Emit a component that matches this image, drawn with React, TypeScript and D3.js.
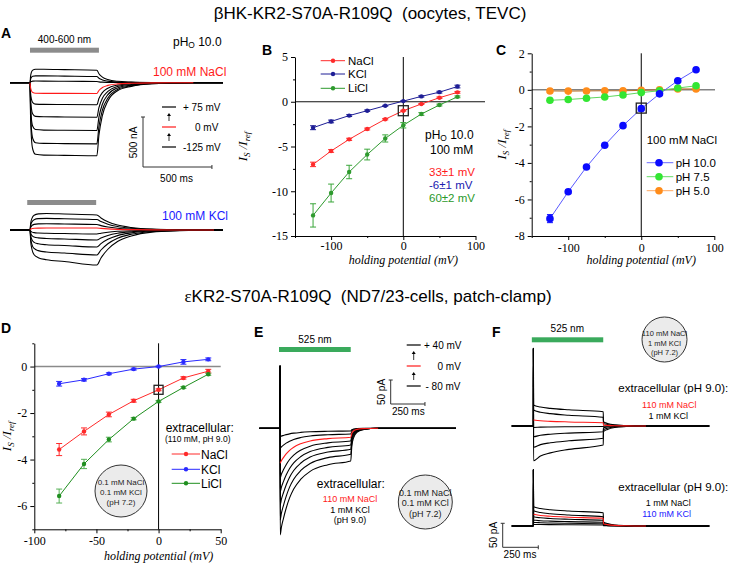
import React, { useEffect, useRef } from 'react';
import * as d3 from 'd3';

const SANS = "'Liberation Sans', Arial, Helvetica, sans-serif";
const SERIF = "'Liberation Serif', 'Times New Roman', serif";

// ---------- B / C : oocyte I-V data ----------
const ivVolts = [-125, -100, -75, -50, -25, 0, 25, 50, 75];
const bNaCl = [-7.0, -5.5, -4.2, -3.05, -1.95, -1.0, -0.25, 0.45, 1.05];
const bNaClErr = [0.25, 0.15, 0.12, 0.1, 0.08, 0.05, 0.05, 0.08, 0.1];
const bKCl = [-2.9, -2.2, -1.55, -1.0, -0.45, 0.07, 0.6, 1.07, 1.7];
const bKClErr = [0.22, 0.15, 0.1, 0.08, 0.05, 0.05, 0.08, 0.1, 0.15];
const bLiCl = [-12.7, -10.2, -7.85, -5.9, -4.1, -2.63, -1.37, -0.37, 0.55];
const bLiClErr = [1.3, 1.0, 0.75, 0.6, 0.4, 0.3, 0.15, 0.1, 0.1];

const cPH10 = [-7.05, -5.58, -4.22, -3.03, -1.96, -1.03, -0.22, 0.5, 1.1];
const cPH10Err = [0.22, 0.1, 0.08, 0.06, 0.05, 0.04, 0.04, 0.05, 0.06];
const cPH75 = [-0.57, -0.53, -0.46, -0.39, -0.28, -0.15, -0.05, 0.1, 0.22];
const cPH5 = [-0.06, -0.07, -0.06, -0.05, -0.05, -0.03, 0.0, 0.05, 0.05];

// ---------- D : ND7/23 I-V data ----------
const dVolts = [-80, -60, -40, -20, 0, 20, 40];
const dNaCl = [-3.57, -2.79, -2.06, -1.47, -1.0, -0.49, -0.2];
const dNaClErr = [0.26, 0.15, 0.1, 0.06, 0.04, 0.05, 0.08];
const dKCl = [-0.74, -0.57, -0.31, -0.11, 0, 0.2, 0.31];
const dKClErr = [0.1, 0.05, 0.04, 0.04, 0.02, 0.1, 0.06];
const dLiCl = [-5.57, -4.19, -3.14, -2.24, -1.5, -0.9, -0.33];
const dLiClErr = [0.3, 0.2, 0.1, 0.05, 0.04, 0.04, 0.05];

// ---------- A : TEVC traces (nA), +75 ... -125 mV ----------
const aNaClStart = [137, 70, 17, -106, -216, -340, -473, -606, -723];
const aNaClEnd = [125, 62, 12, -108, -220, -345, -478, -612, -730];
const aKClStart = [170, 120, 65, 20, -30, -80, -140, -210, -280];
const aKClEnd = [150, 105, 55, 20, -40, -100, -170, -250, -350];
const aRedIndex = 3;
// [ms after light on, onset fraction, drift fraction]
const aShapeNaCl = [[0, 0, 0], [4, 0.45, 0.01], [10, 0.75, 0.02], [20, 0.92, 0.04], [40, 0.99, 0.08], [100, 1, 0.2], [250, 1, 0.5], [485, 1, 1]];
const aShapeKCl = [[0, 0, 0], [5, 0.4, 0.01], [15, 0.7, 0.03], [30, 0.87, 0.06], [60, 0.96, 0.12], [120, 1, 0.25], [250, 1, 0.5], [485, 1, 1]];
// [ms after light off, fraction remaining]
const aTailNaCl = [[0, 1], [15, 0.72], [40, 0.45], [80, 0.25], [150, 0.11], [250, 0.05], [400, 0.015], [700, 0]];
const aTailKCl = [[0, 1], [30, 0.8], [80, 0.55], [150, 0.33], [250, 0.17], [400, 0.06], [600, 0.02], [850, 0]];

// ---------- E : patch-clamp traces (pA) ----------
const ePeak = [-17.5, -41.7, -72.9, -103.5, -132.7, -159.8, -191, -222];
const eSteady = [-5.6, -11.9, -18.75, -26.5, -34.8, -43.75, -54.2, -68.1];
const eRedIndex = 2;
const eShape = [[1.5, 1, 0], [10, 1, 0.1], [25, 1, 0.22], [45, 1, 0.36], [70, 1, 0.5], [100, 1, 0.62], [150, 1, 0.75], [220, 1, 0.86], [350, 1, 0.95], [516, 1, 1]];
const eTail = [[0, 1], [8, 0.55], [20, 0.3], [45, 0.12], [90, 0.04], [200, 0]];

// ---------- F : patch-clamp traces (pA) ----------
const fNaClStart = [43.75, 33.3, 12.5, -3, -22.3, -44.4, -72.3];
const fNaClEnd = [29.8, 18.1, 6.9, -1, -11.9, -25.6, -39.6];
const fKClStart = [40.2, 31.9, 24.4, 19.4, 12.5, 7.7, 3.5];
const fKClEnd = [27.7, 19.4, 16.0, 11.9, 7.7, 4.8, 2.1];
const fRedIndex = 2;
const fShape = [[1.5, 1, 0], [50, 1, 0.3], [120, 1, 0.5], [250, 1, 0.72], [491, 1, 1]];
const fTail = [[0, 1], [1.5, 0.3], [30, 0.18], [80, 0.08], [160, 0.03], [300, 0]];

function txt(g: any, x: number, y: number, s: string, o: any = {}) {
  return g.append('text')
    .attr('x', x).attr('y', y)
    .attr('text-anchor', o.anchor || 'start')
    .attr('fill', o.color || '#000')
    .style('font-family', o.family || SANS)
    .style('font-size', (o.size || 12) + 'px')
    .style('font-weight', o.weight || 'normal')
    .style('font-style', o.italic ? 'italic' : 'normal')
    .style('white-space', 'pre')
    .text(s);
}

function yLabel(g: any, x: number, y: number) {
  const t = g.append('text')
    .attr('transform', `translate(${x},${y}) rotate(-90)`)
    .attr('text-anchor', 'middle')
    .style('font-family', SERIF).style('font-style', 'italic').style('font-size', '13px');
  t.append('tspan').text('I');
  t.append('tspan').attr('dy', 3).style('font-size', '9px').text('S');
  t.append('tspan').attr('dy', -3).text(' /');
  t.append('tspan').text('I');
  t.append('tspan').attr('dy', 3).style('font-size', '9px').text('ref');
}

function drawIV(root: any, o: any) {
  const g = root.append('g');
  const x = d3.scaleLinear().domain(o.xDomain).range(o.xRange);
  const y = d3.scaleLinear().domain(o.yDomain).range(o.yRange);

  g.append('line').attr('x1', o.xRange[0]).attr('x2', o.zeroEnd).attr('y1', y(0)).attr('y2', y(0))
    .attr('stroke', o.zeroColor).attr('stroke-width', o.zeroWidth);
  g.append('line').attr('x1', x(0)).attr('x2', x(0)).attr('y1', o.yRange[0]).attr('y2', o.yRange[1])
    .attr('stroke', '#000').attr('stroke-width', 1);

  const styleAxis = (a: any) => {
    a.selectAll('path,line').attr('stroke', '#000');
    a.selectAll('text').style('font-family', SERIF).style('font-size', '12px').attr('fill', '#000');
  };
  const xa = g.append('g').attr('transform', `translate(0,${o.yRange[0]})`)
    .call(d3.axisBottom(x).tickValues(o.xTicks).tickSize(4).tickSizeOuter(0).tickPadding(o.xPad).tickFormat((d: any) => String(d)));
  styleAxis(xa);
  const xm = g.append('g').attr('transform', `translate(0,${o.yRange[0]})`)
    .call(d3.axisBottom(x).tickValues(o.xMinor).tickSize(2).tickSizeOuter(0).tickFormat(() => ''));
  xm.select('.domain').remove(); styleAxis(xm);
  const ya = g.append('g').attr('transform', `translate(${o.xRange[0]},0)`)
    .call(d3.axisLeft(y).tickValues(o.yTicks).tickSize(4).tickSizeOuter(0).tickPadding(3).tickFormat((d: any) => String(d)));
  styleAxis(ya);
  const ym = g.append('g').attr('transform', `translate(${o.xRange[0]},0)`)
    .call(d3.axisLeft(y).tickValues(o.yMinor).tickSize(2).tickSizeOuter(0).tickFormat(() => ''));
  ym.select('.domain').remove(); styleAxis(ym);

  const line = d3.line<number>().x((_, i) => x(o.volts[i])).y((d) => y(d));
  o.series.forEach((s: any) => {
    g.append('path').attr('d', line(s.values)).attr('fill', 'none')
      .attr('stroke', s.lineColor || s.color).attr('stroke-width', 1);
    if (s.errors) {
      s.values.forEach((v: number, i: number) => {
        const e = s.errors[i];
        const cx = x(o.volts[i]);
        const eg = g.append('g').attr('stroke', s.errColor || s.color).attr('stroke-width', 1);
        eg.append('line').attr('x1', cx).attr('x2', cx).attr('y1', y(v - e)).attr('y2', y(v + e));
        eg.append('line').attr('x1', cx - 3).attr('x2', cx + 3).attr('y1', y(v - e)).attr('y2', y(v - e));
        eg.append('line').attr('x1', cx - 3).attr('x2', cx + 3).attr('y1', y(v + e)).attr('y2', y(v + e));
      });
    }
  });
  o.series.forEach((s: any) => {
    g.selectAll(null).data(s.values).enter().append('circle')
      .attr('cx', (_: any, i: number) => x(o.volts[i])).attr('cy', (d: number) => y(d))
      .attr('r', o.markerR).attr('fill', s.color);
  });
  // reference point
  const sq = o.sq;
  g.append('rect').attr('x', x(0) - sq / 2).attr('y', y(-1) - sq / 2).attr('width', sq).attr('height', sq)
    .attr('fill', 'none').attr('stroke', '#222').attr('stroke-width', 1.3);

  txt(g, x(0), o.xTitleY, 'holding potential (mV)', { family: SERIF, italic: true, size: 12, anchor: 'middle' });
  yLabel(g, o.yTitleX, (o.yRange[0] + o.yRange[1]) / 2);
  return { x, y };
}

// red (0 mV) trace is drawn on top, so it only covers the light-driven part
function buildTrace(p: any, start: number, end: number, isRed: boolean) {
  const pts: number[][] = [];
  if (!isRed) {
    pts.push([0, 0], [p.tOn, 0]);
    if (p.spike != null) pts.push([p.tOn + 0.4, p.spike]);
  }
  p.shape.forEach(([dt, a, r]: number[]) => pts.push([p.tOn + dt, a * (start + (end - start) * r)]));
  p.tail.forEach(([dt, f]: number[]) => pts.push([p.tOff + dt, end * f]));
  if (!isRed) pts.push([p.tEnd, 0]);
  return pts;
}

function drawTraces(root: any, p: any, starts: number[], ends: number[], red: number) {
  const g = root.append('g');
  const x = d3.scaleLinear().domain([0, p.tEnd]).range(p.xRange);
  const y = d3.scaleLinear().domain([0, -p.unit]).range([p.base, p.base + p.unitPx]);
  const line = d3.line<number[]>().x((d) => x(d[0])).y((d) => y(d[1])).curve(d3.curveMonotoneX);
  const order = starts.map((_, i) => i).filter((i) => i !== red).concat([red]);
  order.forEach((i) => {
    g.append('path').attr('d', line(buildTrace(p, starts[i], ends[i], i === red))).attr('fill', 'none')
      .attr('stroke', i === red ? '#ff1a1a' : '#000').attr('stroke-width', 1.1)
      .attr('stroke-linejoin', 'round');
  });
  return { x, y };
}

function scaleBar(g: any, x0: number, y0: number, w: number, h: number) {
  g.append('path').attr('d', `M${x0},${y0 - h}L${x0},${y0}L${x0 + w},${y0}`)
    .attr('fill', 'none').attr('stroke', '#333').attr('stroke-width', 1);
  g.append('line').attr('x1', x0 - 2).attr('x2', x0 + 2).attr('y1', y0 - h).attr('y2', y0 - h).attr('stroke', '#333');
  g.append('line').attr('x1', x0 + w).attr('x2', x0 + w).attr('y1', y0 - 2).attr('y2', y0 + 2).attr('stroke', '#333');
}

function voltLegend(g: any, x0: number, ys: number[], labels: string[], labelX: number[]) {
  const lw = 14;
  ys.forEach((yy, i) => {
    g.append('line').attr('x1', x0).attr('x2', x0 + lw).attr('y1', yy).attr('y2', yy)
      .attr('stroke', i === 1 ? '#ff1a1a' : '#000').attr('stroke-width', 1.2);
    txt(g, labelX[i], yy + 3.5, labels[i], { size: 10 });
  });
  [0, 1].forEach((i) => {
    const yb = ys[i + 1] - 6, yt = ys[i] + 6;
    g.append('line').attr('x1', x0 + lw / 2).attr('x2', x0 + lw / 2).attr('y1', yb).attr('y2', yt + 2)
      .attr('stroke', '#000').attr('stroke-width', 0.8);
    g.append('path').attr('d', `M${x0 + lw / 2 - 2},${yt + 3}L${x0 + lw / 2},${yt}L${x0 + lw / 2 + 2},${yt + 3}Z`).attr('fill', '#000');
  });
}

function bubble(g: any, cx: number, cy: number, r: number, lines: string[], ys: number[], size: number) {
  g.append('circle').attr('cx', cx).attr('cy', cy).attr('r', r)
    .attr('fill', '#ebebeb').attr('stroke', '#333').attr('stroke-width', 1);
  lines.forEach((s, i) => txt(g, cx, ys[i], s, { size, anchor: 'middle', color: '#222' }));
}

function pHo(g: any, x: number, y: number, size: number) {
  const t = g.append('text').attr('x', x).attr('y', y)
    .style('font-family', SANS).style('font-size', size + 'px').style('white-space', 'pre');
  t.append('tspan').text('pH');
  t.append('tspan').attr('dy', 2.5).style('font-size', (size * 0.7) + 'px').text('O');
  t.append('tspan').attr('dy', -2.5).text(' 10.0');
}

export default function App() {
  const ref = useRef<SVGSVGElement>(null);

  useEffect(() => {
    const svg = d3.select(ref.current);
    svg.selectAll('*').remove();
    svg.append('rect').attr('width', 729).attr('height', 563).attr('fill', '#fff');

    // titles
    txt(svg, 370, 19, 'βHK-KR2-S70A-R109Q  (oocytes, TEVC)', { size: 17, anchor: 'middle' });
    const t2 = svg.append('text').attr('x', 368).attr('y', 302).attr('text-anchor', 'middle')
      .style('font-family', SANS).style('font-size', '17px').style('white-space', 'pre');
    t2.append('tspan').style('font-family', SERIF).text('ε');
    t2.append('tspan').text('KR2-S70A-R109Q  (ND7/23-cells, patch-clamp)');

    // panel letters
    [['A', 1, 38], ['B', 262, 55], ['C', 496, 55], ['D', 1, 333], ['E', 254, 337], ['F', 492, 337]].forEach(([s, x, y]: any) =>
      txt(svg, x, y, s, { size: 14, weight: 'bold' }));

    // ---------------- A ----------------
    const A = svg.append('g');
    const aParams = { tOn: 145, tOff: 630, tEnd: 1545, xRange: [10, 223], unit: 500, unitPx: 50 };
    const aTop = drawTraces(A, { ...aParams, base: 82.7, shape: aShapeNaCl, tail: aTailNaCl }, aNaClStart, aNaClEnd, aRedIndex);
    drawTraces(A, { ...aParams, base: 230, shape: aShapeKCl, tail: aTailKCl }, aKClStart, aKClEnd, aRedIndex);
    A.append('rect').attr('x', aTop.x(145)).attr('y', 47.7).attr('width', aTop.x(645) - aTop.x(145)).attr('height', 5).attr('fill', '#8c8c8c');
    A.append('rect').attr('x', aTop.x(125)).attr('y', 200).attr('width', aTop.x(625) - aTop.x(125)).attr('height', 5).attr('fill', '#8c8c8c');
    txt(A, 64.5, 42.5, '400-600 nm', { size: 10, anchor: 'middle' });
    pHo(A, 173, 45.5, 12);
    txt(A, 153, 76, '100 mM NaCl', { size: 12, color: '#ff1a1a' });
    txt(A, 162, 220, '100 mM KCl', { size: 12, color: '#1a1aff' });
    voltLegend(A, 162, [107, 127, 147], ['+ 75 mV', '0 mV', '-125 mV'], [183, 195, 183]);
    scaleBar(A, 143, 167, aTop.x(500) - aTop.x(0), aTop.y(-500) - aTop.y(0));
    A.append('text').attr('transform', 'translate(136.5,142.5) rotate(-90)').attr('text-anchor', 'middle')
      .style('font-family', SANS).style('font-size', '10px').text('500 nA');
    txt(A, 176.5, 181.5, '500 ms', { size: 10, anchor: 'middle' });

    // ---------------- B ----------------
    const B = svg.append('g');
    drawIV(B, {
      volts: ivVolts, xDomain: [-150, 100], xRange: [295, 475.5], yDomain: [-15, 5], yRange: [236, 57],
      xTicks: [-100, 0, 100], xMinor: [-150, -50, 50], yTicks: [5, 0, -5, -10, -15], yMinor: [2.5, -2.5, -7.5, -12.5],
      zeroEnd: 485, zeroColor: '#111', zeroWidth: 1, markerR: 2.2, sq: 10, xTitleY: 264, yTitleX: 247, xPad: 1,
      series: [
        { values: bNaCl, errors: bNaClErr, color: '#ff2a2a' },
        { values: bKCl, errors: bKClErr, color: '#1e1e96' },
        { values: bLiCl, errors: bLiClErr, color: '#2e9a2e', errColor: '#3aa63a' },
      ],
    });
    [['NaCl', '#ff2a2a', 60.7], ['KCl', '#1e1e96', 74], ['LiCl', '#2e9a2e', 88.3]].forEach(([s, c, yy]: any) => {
      B.append('line').attr('x1', 320.7).attr('x2', 345).attr('y1', yy).attr('y2', yy).attr('stroke', c);
      B.append('circle').attr('cx', 333).attr('cy', yy).attr('r', 2.2).attr('fill', c);
      txt(B, 348, yy + 4, s, { size: 11.5 });
    });
    pHo(B, 425, 138.5, 12);
    txt(B, 430, 154, '100 mM', { size: 12 });
    txt(B, 429, 176, '33±1 mV', { size: 11.5, color: '#ff1a1a' });
    txt(B, 429, 189, '-6±1 mV', { size: 11.5, color: '#2020b0' });
    txt(B, 429, 202, '60±2 mV', { size: 11.5, color: '#2a9a2a' });

    // ---------------- C ----------------
    const C = svg.append('g');
    drawIV(C, {
      volts: ivVolts, xDomain: [-150, 100], xRange: [531.7, 714.3], yDomain: [-8, 2], yRange: [236, 53.3],
      xTicks: [-100, 0, 100], xMinor: [-150, -50, 50], yTicks: [2, 0, -2, -4, -6, -8], yMinor: [1, -1, -3, -5, -7],
      zeroEnd: 715, zeroColor: '#444', zeroWidth: 1, markerR: 3.8, sq: 10, xTitleY: 264, yTitleX: 506, xPad: 3,
      series: [
        { values: cPH5, color: '#ff8c1a', lineColor: '#b8702a' },
        { values: cPH75, color: '#33e633', lineColor: '#5fd65f' },
        { values: cPH10, errors: cPH10Err, color: '#0a0aff', lineColor: '#5a5aff' },
      ],
    });
    txt(C, 646.7, 143.5, '100 mM NaCl', { size: 11.5 });
    [['pH 10.0', '#0a0aff', '#6a6aff', 162.7], ['pH 7.5', '#33e633', '#66dd66', 176.7], ['pH 5.0', '#ff8c1a', '#ffa860', 190.7]].forEach(([s, c, lc, yy]: any) => {
      C.append('line').attr('x1', 646.7).attr('x2', 673.3).attr('y1', yy).attr('y2', yy).attr('stroke', lc);
      C.append('circle').attr('cx', 659).attr('cy', yy).attr('r', 3.8).attr('fill', c);
      txt(C, 675.7, yy + 4, s, { size: 11.5 });
    });

    // ---------------- D ----------------
    const D = svg.append('g');
    drawIV(D, {
      volts: dVolts, xDomain: [-100, 50], xRange: [34.3, 220.7], yDomain: [-7, 1], yRange: [529.3, 343.3],
      xTicks: [-100, -50, 0, 50], xMinor: [-75, -25, 25], yTicks: [0, -2, -4, -6], yMinor: [1, -1, -3, -5, -7],
      zeroEnd: 220.7, zeroColor: '#8a8a8a', zeroWidth: 1.5, markerR: 2.2, sq: 9, xTitleY: 559.5, yTitleX: 11, xPad: 3,
      series: [
        { values: dKCl, errors: dKClErr, color: '#2a2aff' },
        { values: dNaCl, errors: dNaClErr, color: '#ff2a2a' },
        { values: dLiCl, errors: dLiClErr, color: '#1f8f1f', errColor: '#55b055' },
      ],
    });
    txt(D, 165.7, 431.7, 'extracellular:', { size: 12 });
    txt(D, 165, 441.5, '(110 mM, pH 9.0)', { size: 8.5 });
    [['NaCl', '#ff2a2a', 454], ['KCl', '#2a2aff', 469.3], ['LiCl', '#1f8f1f', 483.3]].forEach(([s, c, yy]: any) => {
      D.append('line').attr('x1', 171.7).attr('x2', 200).attr('y1', yy).attr('y2', yy).attr('stroke', c);
      D.append('circle').attr('cx', 186).attr('cy', yy).attr('r', 2.2).attr('fill', c);
      txt(D, 201, yy + 4.5, s, { size: 12 });
    });
    bubble(D, 121, 491, 26, ['0.1 mM NaCl', '0.1 mM KCl', '(pH 7.2)'], [485, 495, 505], 8);

    // ---------------- E ----------------
    const E = svg.append('g');
    const eT = drawTraces(E, {
      tOn: 151, tOff: 667, tEnd: 1435, xRange: [259.3, 456], unit: 50, unitPx: 24, base: 428.3,
      spike: 131, shape: eShape, tail: eTail,
    }, ePeak, eSteady, eRedIndex);
    E.append('rect').attr('x', eT.x(151) - 1).attr('y', 347).attr('width', eT.x(667) - eT.x(151) + 1).attr('height', 5).attr('fill', '#3aaa5c');
    txt(E, 315, 342.7, '525 nm', { size: 10, anchor: 'middle' });
    voltLegend(E, 406.7, [345, 366, 386], ['+ 40 mV', '0 mV', '- 80 mV'], [424, 437.5, 425.5]);
    scaleBar(E, 390.7, 404, eT.x(250) - eT.x(0), eT.y(-50) - eT.y(0));
    E.append('text').attr('transform', 'translate(385,392) rotate(-90)').attr('text-anchor', 'middle')
      .style('font-family', SANS).style('font-size', '10px').text('50 pA');
    txt(E, 408.3, 415, '250 ms', { size: 10, anchor: 'middle' });
    txt(E, 350.8, 488, 'extracellular:', { size: 12, anchor: 'middle' });
    txt(E, 350, 501.7, '110 mM NaCl', { size: 9, anchor: 'middle', color: '#ff1a1a' });
    txt(E, 350, 512.7, '1 mM KCl', { size: 9, anchor: 'middle' });
    txt(E, 350, 522.5, '(pH 9.0)', { size: 9, anchor: 'middle' });
    bubble(E, 425.3, 502, 27, ['0.1 mM NaCl', '0.1 mM KCl', '(pH 7.2)'], [496, 506, 516.5], 9);

    // ---------------- F ----------------
    const F = svg.append('g');
    const fParams = { tOn: 152, tOff: 643, tEnd: 1388, xRange: [511.7, 709.3], unit: 50, unitPx: 24, shape: fShape, tail: fTail };
    const fT = drawTraces(F, { ...fParams, base: 426, spike: 162 }, fNaClStart, fNaClEnd, fRedIndex);
    drawTraces(F, { ...fParams, base: 526, spike: 117 }, fKClStart, fKClEnd, fRedIndex);
    F.append('rect').attr('x', fT.x(152) - 1.5).attr('y', 337.3).attr('width', fT.x(643) - fT.x(152) + 1.5).attr('height', 5).attr('fill', '#3aaa5c');
    txt(F, 567.3, 332.3, '525 nm', { size: 10, anchor: 'middle' });
    bubble(F, 664.5, 339.5, 22.5, ['110 mM NaCl', '1 mM KCl', '(pH 7.2)'], [336, 345.5, 354.5], 7.5);
    txt(F, 618.3, 391.5, 'extracellular (pH 9.0):', { size: 11.5 });
    txt(F, 669.3, 407.5, '110 mM NaCl', { size: 9, anchor: 'middle', color: '#ff1a1a' });
    txt(F, 668.3, 418.5, '1 mM KCl', { size: 9, anchor: 'middle' });
    txt(F, 618.3, 490.5, 'extracellular (pH 9.0):', { size: 11.5 });
    txt(F, 668.3, 506, '1 mM NaCl', { size: 9, anchor: 'middle' });
    txt(F, 666.7, 516.5, '110 mM KCl', { size: 9, anchor: 'middle', color: '#1a1aff' });
    scaleBar(F, 502.7, 547.3, fT.x(250) - fT.x(0), fT.y(-50) - fT.y(0));
    F.append('text').attr('transform', 'translate(496.5,535) rotate(-90)').attr('text-anchor', 'middle')
      .style('font-family', SANS).style('font-size', '10px').text('50 pA');
    txt(F, 520, 558, '250 ms', { size: 10, anchor: 'middle' });
  }, []);

  return (
    <svg
      ref={ref}
      width={729}
      height={563}
      style={{ position: 'absolute', left: 0, top: 0, display: 'block' }}
    />
  );
}
